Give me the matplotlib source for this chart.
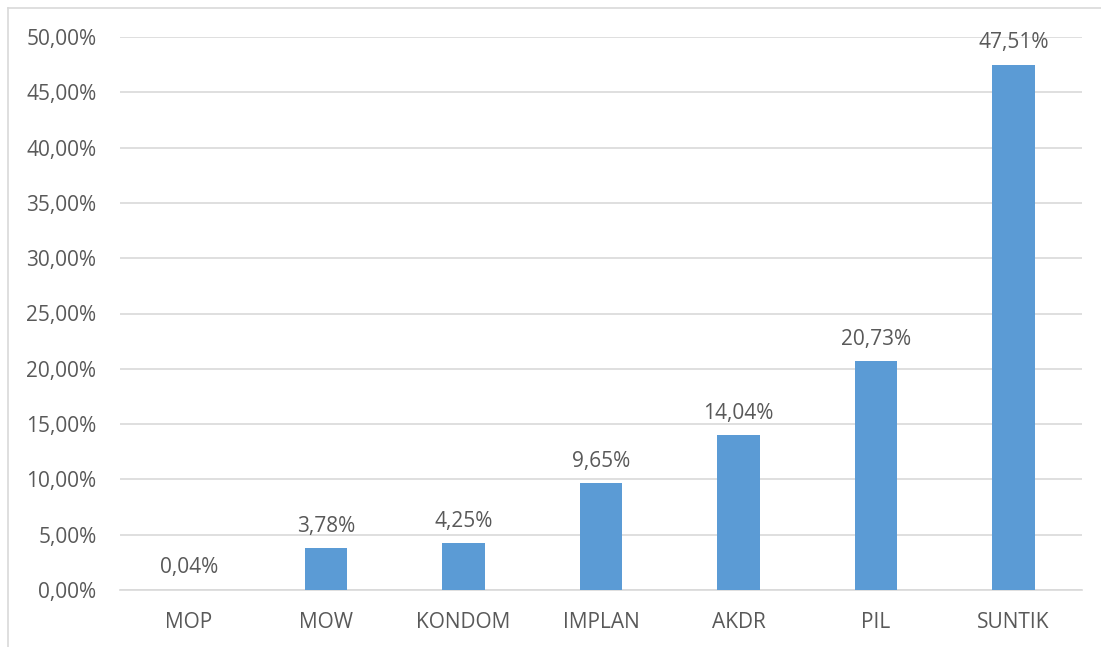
import matplotlib
matplotlib.use("Agg")
import matplotlib.pyplot as plt
from matplotlib.lines import Line2D
from matplotlib.ticker import FuncFormatter

# data
methods = ["MOP", "MOW", "KONDOM", "IMPLAN", "AKDR", "PIL", "SUNTIK"]
shares = [0.04, 3.78, 4.25, 9.65, 14.04, 20.73, 47.51]

text_col = "#595959"
bar_col = "#5b9bd5"
grid_col = "#d9d9d9"

plt.rcParams["font.family"] = ["Open Sans", "DejaVu Sans"]

fig = plt.figure(figsize=(11.01, 6.47), dpi=100)
ax = fig.add_axes([120 / 1101, 1 - 590 / 647, (1082 - 120) / 1101, (590 - 37) / 647])

x = range(len(methods))
bars = ax.bar(x, shares, width=0.31, color=bar_col, zorder=3)

for b, v in zip(bars, shares):
    lbl = f"{v:.2f}%".replace(".", ",")
    ax.annotate(lbl, (b.get_x() + b.get_width() / 2, v), xytext=(0, 8),
                textcoords="offset points", ha="center", va="bottom",
                fontsize=15, color=text_col)

ax.set_xlim(-0.5, len(methods) - 0.5)
ax.set_ylim(0, 50)
ax.set_yticks(range(0, 51, 5))
ax.yaxis.set_major_formatter(FuncFormatter(lambda v, p: f"{v:.2f}%".replace(".", ",")))
ax.set_xticks(list(x))
ax.set_xticklabels(methods)

ax.grid(axis="y", color=grid_col, linewidth=1.2, zorder=0)
for s in ["top", "right", "left"]:
    ax.spines[s].set_visible(False)
ax.spines["bottom"].set_color(grid_col)
ax.spines["bottom"].set_linewidth(1.2)
ax.tick_params(axis="both", length=0, labelsize=15, labelcolor=text_col)
ax.tick_params(axis="y", pad=17)
ax.tick_params(axis="x", pad=16)

# chart frame (only top and left edges visible in the crop)
fig.add_artist(Line2D([8 / 1101, 8 / 1101], [0, 1 - 8 / 647], transform=fig.transFigure,
                      color=grid_col, linewidth=1.2))
fig.add_artist(Line2D([8 / 1101, 1], [1 - 8 / 647, 1 - 8 / 647], transform=fig.transFigure,
                      color=grid_col, linewidth=1.2))

fig.savefig("out.png", dpi=100)
